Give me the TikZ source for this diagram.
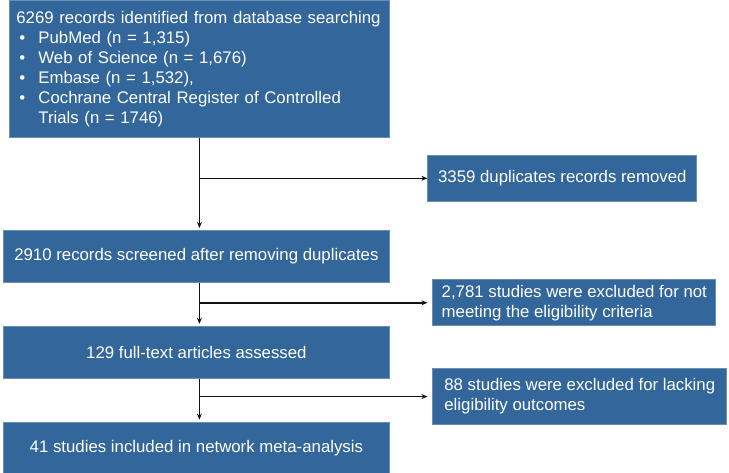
\documentclass[tikz,border=0pt]{standalone}
\usepackage{fontspec}
\setmainfont{Liberation Sans}
\usetikzlibrary{arrows.meta,positioning,calc}
\definecolor{cBox}{HTML}{33669A}
\definecolor{cEdge}{HTML}{6A8FB5}
\definecolor{cInk}{HTML}{111111}
\newcommand{\bul}[1]{\makebox[22pt][l]{\hspace{3pt}\textbullet}#1}

\begin{document}
\begin{tikzpicture}[
  font=\fontsize{16.8}{20}\selectfont,
  box/.style={rectangle, draw=cEdge, line width=0.8pt, fill=cBox, text=white,
    inner xsep=7pt, inner ysep=4pt, minimum width=386pt, minimum height=52pt},
  side/.style={box, minimum width=269pt, minimum height=46pt, align=left},
  flow/.style={-{Stealth[length=6pt,width=5pt]}, line width=1.5pt, color=cInk},
]
\useasboundingbox (0,0) rectangle (729pt,-473pt);
% ---------------------------------------------------------------- main column
\node[box, anchor=north west, align=left, text width=366pt, minimum width=380pt,
  minimum height=137pt] (rec) at (9pt,-0.5pt)
  {6269 records identified from database searching\\
   \bul{PubMed (n = 1,315)}\\
   \bul{Web of Science (n = 1,676)}\\
   \bul{Embase (n = 1,532),}\\
   \bul{Cochrane Central Register of Controlled}\\
   \hspace*{22pt}Trials (n = 1746)};
\node[box, anchor=north west] (scr) at (3pt,-230pt)
  {2910 records screened after removing duplicates};
\node[box, below=43pt of scr] (full) {129 full-text articles assessed};
\node[box, below=43pt of full] (inc) {41 studies included in network meta-analysis};
% ---------------------------------------------------------------- branch points
\coordinate (b1) at ($(rec.south)+(0,-40pt)$);
\coordinate (b2) at ($(b1 |- scr.south)+(0,-20pt)$);
\coordinate (b3) at ($(b1 |- full.south)+(0,-18pt)$);
% ---------------------------------------------------------------- side boxes
\node[side, right=228pt of b1] (dup) {3359 duplicates records removed};
\node[side, minimum width=283pt, right=233pt of b2] (exc1)
  {2,781 studies were excluded for not\\meeting the eligibility criteria};
\node[side, minimum width=294pt, minimum height=56pt, right=233pt of b3] (exc2)
  {88 studies were excluded for lacking\\eligibility outcomes};
% ---------------------------------------------------------------- arrows
\draw[flow, shorten >=2pt] (rec.south) -- (b1 |- scr.north);
\draw[flow] (b1) -- (dup);
\draw[flow, shorten >=2pt] (b1 |- scr.south) -- (b1 |- full.north);
\draw[flow, shorten >=5pt] (b2) -- (exc1);
\draw[flow, shorten >=2pt] (b1 |- full.south) -- (b1 |- inc.north);
\draw[flow, shorten >=5pt] (b3) -- (exc2);
\end{tikzpicture}
\end{document}
